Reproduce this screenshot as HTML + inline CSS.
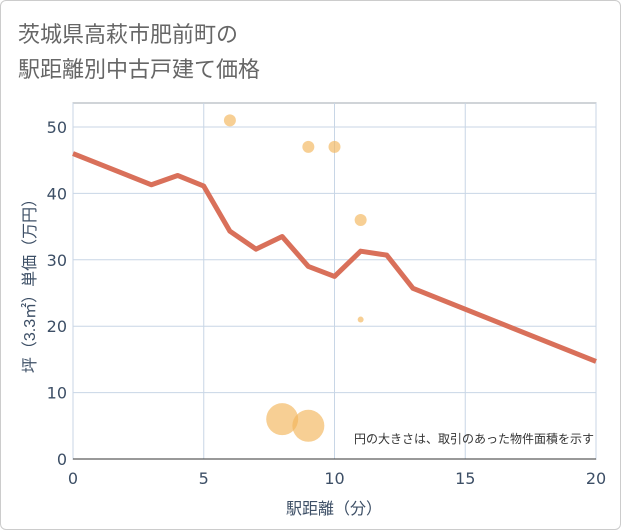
<!DOCTYPE html>
<html><head><meta charset="utf-8"><style>
html,body{margin:0;padding:0;background:#fff}
#wrap{position:relative;width:619px;height:528px;border:1px solid #ccc;border-radius:6px;overflow:hidden;background:#fff}
.t{font-family:"Liberation Sans","Noto Sans CJK JP",sans-serif}
.n{font-family:"DejaVu Sans","Liberation Sans",sans-serif}
</style></head><body>
<div id="wrap">
<svg id="c" width="621" height="530" style="position:absolute;left:-1px;top:-1px">
<text x="18" y="42" font-size="22" fill="#666" class="t">茨城県高萩市肥前町の</text>
<text x="18" y="77" font-size="22" fill="#666" class="t">駅距離別中古戸建て価格</text>
<g id="grid"></g>
<g id="marks"></g>
<text x="334" y="514" font-size="16" fill="#3d4f66" text-anchor="middle" class="t">駅距離（分）</text>
<text transform="translate(35,282) rotate(-90)" font-size="16" fill="#3d4f66" text-anchor="middle" class="t">坪（3.3㎡）単価（万円）</text>
<text x="594" y="443" font-size="12" fill="#333" text-anchor="end" class="t">円の大きさは、取引のあった物件面積を示す</text>
</svg>
</div>
<script>
const xTicks=[0,5,10,15,20];
const yTicks=[0,10,20,30,40,50];
const lineX=[0,3,4,5,6,7,8,9,10,11,12,13,20];
const lineY=[46,41.3,42.7,41.1,34.3,31.6,33.5,29,27.5,31.3,30.7,25.7,14.7];
const bubX=[6,9,10,11,11,8,9];
const bubY=[51,47,47,36,21,6,5];
const bubR=[6,6,6,6,3,16,16];
const L=73,R=596,T=103,B=459;
const sx=v=>L+(v-0)/20*(R-L);
const sy=v=>B-v/50*(B-127);
const NS='http://www.w3.org/2000/svg';
const g=document.getElementById('grid'),m=document.getElementById('marks');
function mk(tag,at,p){const e=document.createElementNS(NS,tag);for(const k in at)e.setAttribute(k,at[k]);p.appendChild(e);return e;}
const frame=mk('rect',{x:L,y:T,width:R-L,height:B-T,fill:'none',stroke:'#a0a8b0'},g);


xTicks.forEach(v=>{
 const ln=mk('line',{x1:sx(v),x2:sx(v),y1:T,y2:B,stroke:'#c8d6e6'},g);
 
 
 const tx=mk('text',{x:sx(v),y:B+25,'font-size':16,fill:'#3d4f66','text-anchor':'middle',class:'n'},g);
 tx.textContent=v;
 
 
});
yTicks.forEach(v=>{
 const ln=mk('line',{x1:L,x2:R,y1:sy(v),y2:sy(v),stroke:'#c8d6e6'},g);
 
 
 const tx=mk('text',{x:L-6,y:sy(v)+6,'font-size':16,fill:'#3d4f66','text-anchor':'end',class:'n'},g);
 tx.textContent=v;
 
 
});
mk('line',{x1:L,x2:R,y1:B,y2:B,stroke:'#333'},g);
bubX.forEach((v,i)=>{
 const c=mk('circle',{cx:sx(v),cy:sy(bubY[i]),r:bubR[i],fill:'#f2b55a','fill-opacity':0.65},m);
 
 
});
const pl=mk('polyline',{points:lineX.map((v,i)=>sx(v)+','+sy(lineY[i])).join(' '),fill:'none',stroke:'#d9705a','stroke-width':5,'stroke-linejoin':'round'},m);


</script>
</body></html>
